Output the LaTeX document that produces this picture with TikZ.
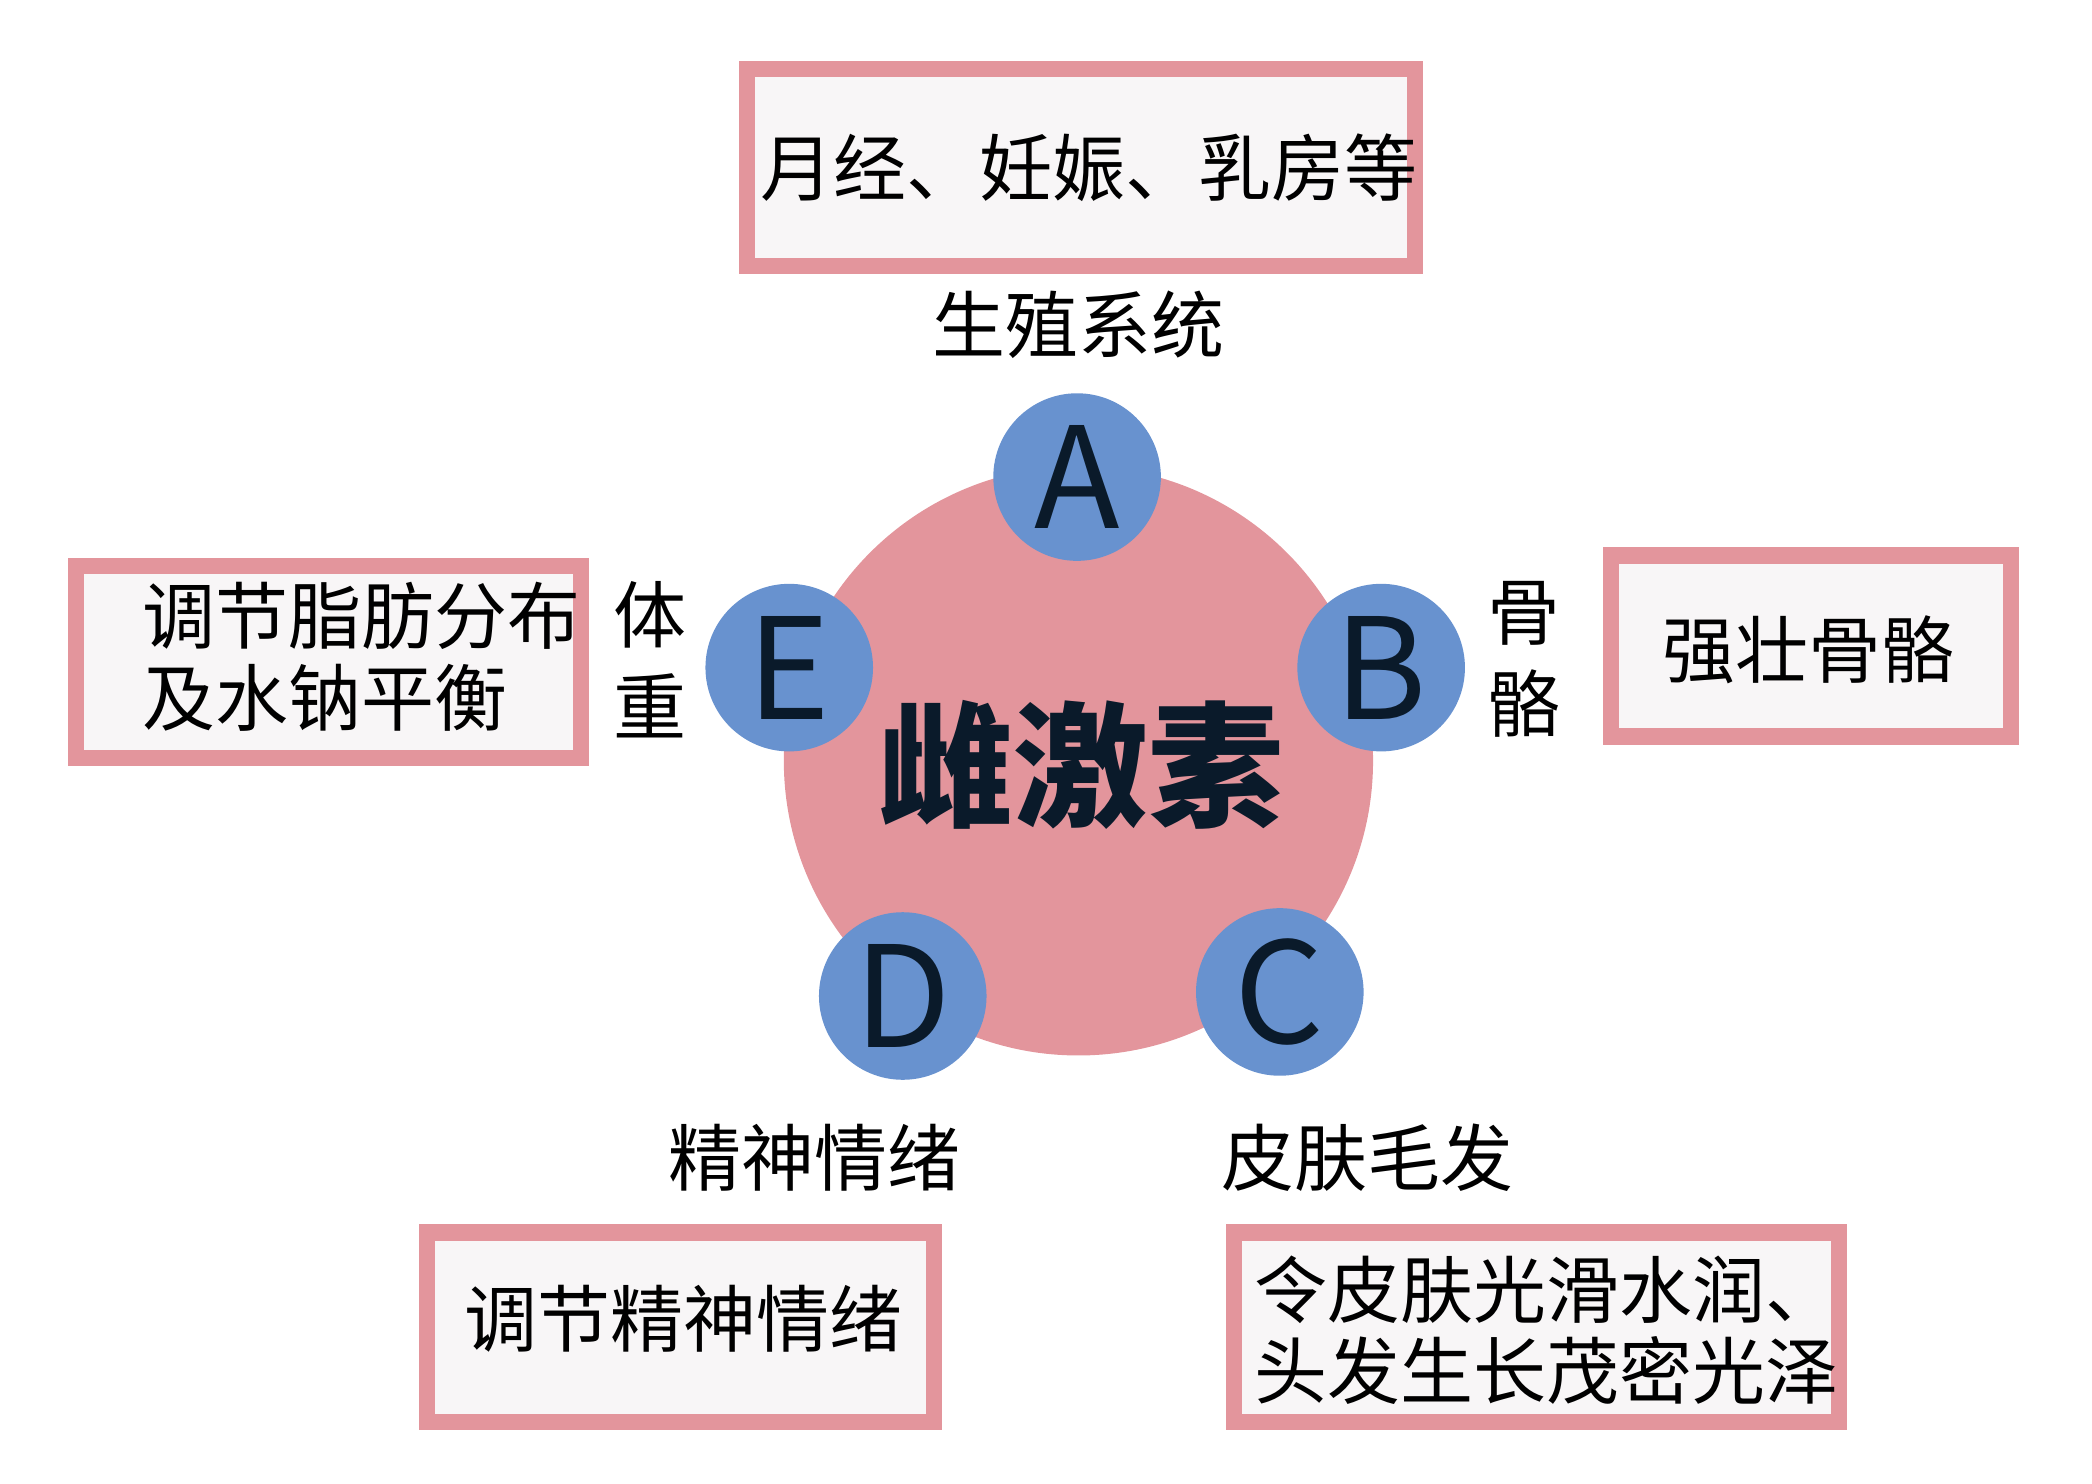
\documentclass[tikz,border=0pt]{standalone}
\usepackage{fontspec}
\setmainfont{Noto Sans CJK SC}
\setsansfont{Noto Sans CJK SC}
\definecolor{pk}{HTML}{E3959C}
\definecolor{bl}{HTML}{6892CF}
\definecolor{fl}{HTML}{F8F6F7}
\definecolor{tx}{HTML}{0A1A2A}
\begin{document}
\begin{tikzpicture}[x=0.5pt,y=-0.5pt,
  bx/.style={draw=pk,fill=fl,line width=6pt},
  lt/.style={circle,fill=bl,minimum size=62pt,inner sep=0pt,font=\fontsize{52}{52}\selectfont,text=tx},
  lb/.style={font=\fontsize{27}{32}\selectfont,text=black,inner sep=0pt},
  lv/.style={font=\fontsize{27}{34}\selectfont,text=black,inner sep=0pt,align=center}]
\useasboundingbox (0,0) rectangle (1548,1098);
\node[circle,fill=pk,minimum size=218pt,inner sep=0pt] (big) at (798,563) {};
\node[font=\fontsize{50}{50}\selectfont\bfseries,text=tx] (c) at (800,566) {雌激素};
\node[lt] (A) at (797,353) {A};
\node[lt] (B) at (1022,494) {B};
\node[lt] (C) at (947,734) {C};
\node[lt] (D) at (668,737) {D};
\node[lt] (E) at (584,494) {E};
% boxes
\draw[bx] (553,51) rectangle (1047,197);
\node[lb] (ta) at (806,124) {月经、妊娠、乳房等};
\node[lb] (la) at (798,240) {生殖系统};
\draw[bx] (1192,411) rectangle (1488,545);
\node[lb] (tb) at (1338,481) {强壮骨骼};
\node[lv] (lbb) at (1128,488) {骨\\骼};
\draw[bx] (56,419) rectangle (430,561);
\node[lb,anchor=west,align=left,font=\fontsize{27}{30}\selectfont] (te) at (105,486) {调节脂肪分布\\及水钠平衡};
\node[lv] (le) at (481,488) {体\\重};
\draw[bx] (316,912) rectangle (691,1052);
\node[lb] (td) at (506,976) {调节精神情绪};
\node[lb] (ld) at (603,857) {精神情绪};
\draw[bx] (913,912) rectangle (1361,1052);
\node[lb,anchor=west,align=left,font=\fontsize{27}{30}\selectfont] (tc) at (928,984) {令皮肤光滑水润、\\头发生长茂密光泽};
\node[lb] (lc) at (1012,857) {皮肤毛发};
\end{tikzpicture}
\end{document}
